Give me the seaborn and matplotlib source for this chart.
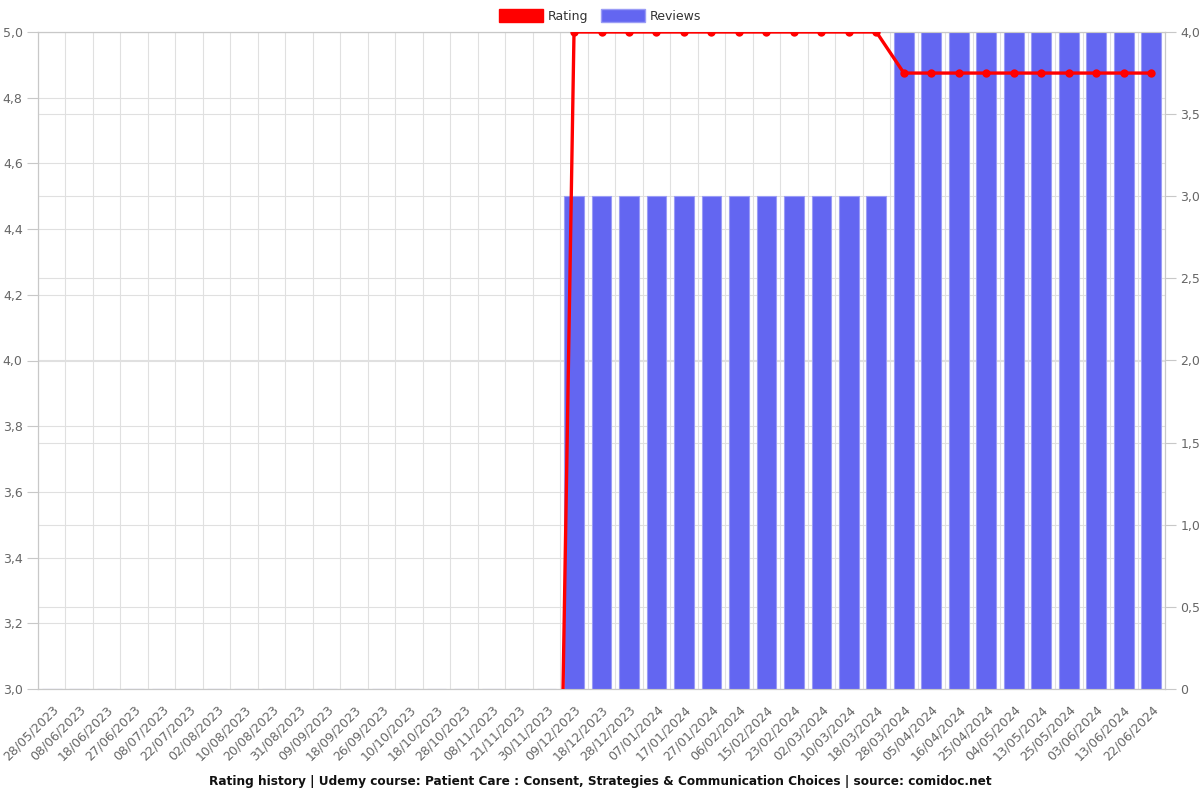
import numpy as np
import pandas as pd
import matplotlib
matplotlib.use("Agg")
import matplotlib.pyplot as plt
import seaborn as sns
from matplotlib.patches import Patch
from matplotlib.ticker import FuncFormatter, MultipleLocator

dates = ["28/05/2023", "08/06/2023", "18/06/2023", "27/06/2023", "08/07/2023", "22/07/2023",
         "02/08/2023", "10/08/2023", "20/08/2023", "31/08/2023", "09/09/2023", "18/09/2023",
         "26/09/2023", "10/10/2023", "18/10/2023", "28/10/2023", "08/11/2023", "21/11/2023",
         "30/11/2023", "09/12/2023", "18/12/2023", "28/12/2023", "07/01/2024", "17/01/2024",
         "27/01/2024", "06/02/2024", "15/02/2024", "23/02/2024", "02/03/2024", "10/03/2024",
         "18/03/2024", "28/03/2024", "05/04/2024", "16/04/2024", "25/04/2024", "04/05/2024",
         "13/05/2024", "25/05/2024", "03/06/2024", "13/06/2024", "22/06/2024"]
reviews = [0] * 19 + [3] * 12 + [4] * 10
rating = [0.0] * 19 + [5.0] * 12 + [4.875] * 10

title = ("Rating history | Udemy course: Patient Care : Consent, Strategies & "
         "Communication Choices | source: comidoc.net")

df = pd.DataFrame({"date": dates, "reviews": reviews, "rating": rating})
df["pos"] = np.arange(len(df))

sns.set_style("white")
plt.rcParams["font.family"] = ["DejaVu Sans"]

n = len(dates)
grid_c = "#e0e0e0"
spine_c = "#c8c8c8"
tick_c = "#666666"
bar_c = "#6366f1"

fig = plt.figure(figsize=(12, 8), dpi=100)
ax = fig.add_axes([38 / 1200, 1 - 689 / 800, (1165 - 38) / 1200, (689 - 32) / 800])
ax2 = ax.twinx()
ax3 = ax.twinx()

# left axis: rating scale + grid
ax.set_ylim(3.0, 5.0)
ax.yaxis.set_major_locator(MultipleLocator(0.2))
ax.yaxis.set_major_formatter(FuncFormatter(lambda v, p: f"{v:.1f}".replace(".", ",")))
ax.set_xlim(-0.5, n - 0.5)
ax.set_xticks(np.arange(n))
ax.set_xticklabels(dates, rotation=45, ha="right", rotation_mode="anchor")
ax.set_xticks(np.arange(n + 1) - 0.5, minor=True)
ax.tick_params(axis="x", which="major", length=0, pad=10, labelsize=9, colors=tick_c)
ax.tick_params(axis="x", which="minor", length=8, color=spine_c)
ax.tick_params(axis="y", length=8, color=spine_c, labelsize=9, labelcolor=tick_c, pad=3)
ax.grid(False)
ax.xaxis.grid(True, which="minor", color=grid_c, lw=0.8)
ax.yaxis.grid(True, which="major", color=grid_c, lw=0.8)
for s in ax.spines.values():
    s.set_color(spine_c)

# right axis: reviews bars
sns.barplot(data=df, x="pos", y="reviews", ax=ax2, color=bar_c, saturation=1,
            width=0.72, edgecolor="#9a9cf6", linewidth=0.8, zorder=2, native_scale=True)
ax2.set_ylim(0, 4)
ax2.set_xlim(-0.5, n - 0.5)
ax2.yaxis.set_major_locator(MultipleLocator(0.5))
ax2.yaxis.set_major_formatter(FuncFormatter(
    lambda v, p: "0" if v == 0 else f"{v:.1f}".replace(".", ",")))
ax2.tick_params(axis="y", length=8, color=spine_c, labelsize=9, labelcolor=tick_c, pad=3)
ax2.set_ylabel("")
ax2.set_xlabel("")
ax2.set_axisbelow(True)
ax2.yaxis.grid(True, color=grid_c, lw=0.8)
ax2.xaxis.grid(False)
ax2.patch.set_visible(False)
for s in ax2.spines.values():
    s.set_color(spine_c)

# line axis
sns.lineplot(data=df, x="pos", y="rating", ax=ax3, color="#ff0000", lw=2.4,
             marker="o", markersize=6, markeredgewidth=0, zorder=5)
ax3.set_ylim(3.0, 5.0)
ax3.set_xlim(-0.5, n - 0.5)
ax3.set_yticks([])
ax3.set_ylabel("")
ax3.set_xlabel("")
ax3.patch.set_visible(False)
for s in ax3.spines.values():
    s.set_visible(False)

ax.set_xlabel("")
ax.set_ylabel("")

handles = [Patch(facecolor="#ff0000", edgecolor="#ff0000"),
           Patch(facecolor=bar_c, edgecolor="#9a9cf6")]
fig.legend(handles, ["Rating", "Reviews"], loc="center", bbox_to_anchor=(0.5, 1 - 16 / 800),
           ncol=2, frameon=False, fontsize=9, handlelength=3.5, handleheight=1.2,
           columnspacing=1.0, handletextpad=0.4, labelcolor="#333333")

fig.text(0.5, 1 - 782 / 800, title, ha="center", va="center", fontsize=8.7,
         fontweight="bold", color="#111111")

fig.savefig("out.png", dpi=100)
